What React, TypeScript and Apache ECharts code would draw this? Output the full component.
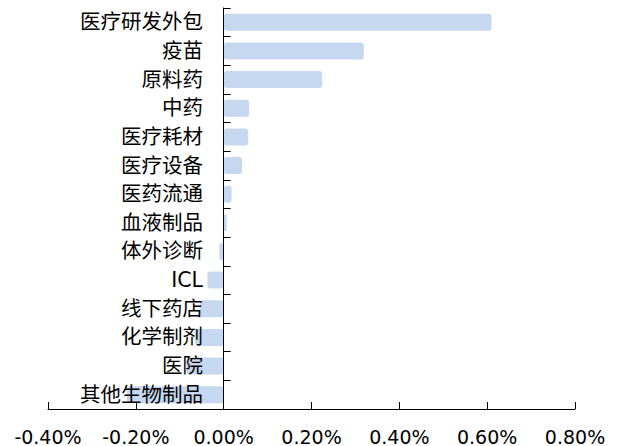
import React, { useEffect, useRef } from "react";
import * as echarts from "echarts";

const categories = [
  "医疗研发外包",
  "疫苗",
  "原料药",
  "中药",
  "医疗耗材",
  "医疗设备",
  "医药流通",
  "血液制品",
  "体外诊断",
  "ICL",
  "线下药店",
  "化学制剂",
  "医院",
  "其他生物制品",
];

// values in percent
const values = [0.61, 0.319, 0.224, 0.058, 0.056, 0.042, 0.018, 0.007, -0.01, -0.037, -0.054, -0.065, -0.084, -0.22];

const xMin = -0.4;
const xMax = 0.8;
const xInterval = 0.2;

export default function App() {
  const ref = useRef<HTMLDivElement>(null);
  useEffect(() => {
    if (!ref.current) return;
    const chart = echarts.init(ref.current, null, { renderer: "svg" });
    chart.setOption({
      animation: false,
      backgroundColor: "#ffffff",
      grid: { left: 48, right: 46, top: 8, bottom: 37, containLabel: false, outerBoundsMode: "none" },
      xAxis: {
        type: "value",
        min: xMin,
        max: xMax,
        interval: xInterval,
        position: "bottom",
        splitLine: { show: false },
        axisLine: { show: true, onZero: false, lineStyle: { color: "#000", width: 1 } },
        axisTick: { show: true, inside: true, length: 7, lineStyle: { color: "#000" } },
        axisLabel: {
          color: "#000",
          fontSize: 19,
          fontFamily: "DejaVu Sans",
          margin: 18,
          hideOverlap: false,
          formatter: (v: number) => v.toFixed(2) + "%",
        },
      },
      yAxis: {
        type: "category",
        data: categories,
        inverse: true,
        z: 3,
        axisLine: { show: true, onZero: true, lineStyle: { color: "#000", width: 1 } },
        axisTick: { show: true, inside: true, length: 7, lineStyle: { color: "#000" } },
        axisLabel: {
          color: "#000",
          fontSize: 20.5,
          fontFamily: "DejaVu Sans, Noto Sans CJK SC",
          margin: -155,
          hideOverlap: false,
        },
        splitLine: { show: false },
      },
      series: [
        {
          type: "bar",
          data: values,
          barWidth: 17,
          itemStyle: { color: "#c6d8ef", borderRadius: 3 },
          z: 2,
        },
      ],
    });
    return () => chart.dispose();
  }, []);
  return (
    <div
      ref={ref}
      style={{ position: "fixed", left: 0, top: 0, width: 621, height: 446, background: "#fff" }}
    />
  );
}
